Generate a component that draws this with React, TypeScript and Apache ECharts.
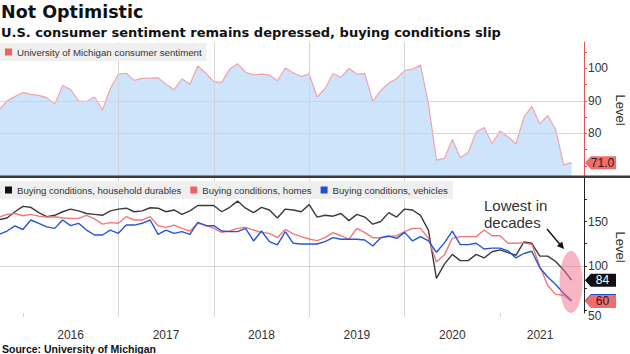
import React, { useEffect, useRef } from 'react';
import * as echarts from 'echarts';

// Monthly data, Sep 2015 .. Sep 2021 (plotted at month end)
const START_YEAR = 2015;
const START_MONTH = 9;

const sentiment = [
  87.2, 90.0, 91.3, 92.6,
  92.0, 91.7, 91.0, 89.0, 94.7, 93.5, 90.0, 89.8, 91.2, 87.2, 93.8, 98.2,
  98.5, 96.3, 96.9, 97.0, 97.1, 95.1, 93.4, 96.8, 95.1, 100.7, 98.5, 95.9,
  95.7, 99.7, 101.4, 98.8, 98.0, 98.2, 97.9, 96.2, 100.1, 98.6, 97.5, 98.3,
  91.2, 93.8, 98.4, 97.2, 100.0, 98.2, 98.4, 89.8, 93.2, 95.5, 96.8, 99.3,
  99.8, 101.0, 89.1, 71.8, 72.3, 78.1, 72.5, 74.1, 80.4, 81.8, 76.9, 80.7,
  79.0, 76.8, 84.9, 88.3, 82.9, 85.5, 81.2, 70.3, 71.0,
];

const durables = [
  152, 154, 161, 167,
  166, 160, 155.5, 157, 161, 164, 162, 159, 158, 157, 162, 164,
  165, 161, 162, 165.5, 165, 161, 163, 158, 162, 168, 168, 168,
  161, 166, 173, 165, 160, 166, 163, 154, 164, 163, 161, 169,
  155, 157, 156, 159, 151, 158, 155, 147, 150, 160, 155, 164,
  163, 157, 140, 86, 102, 113, 106, 106, 113, 109, 116, 118,
  115, 112, 127, 125.5, 111, 111, 105, 95.5, 84,
];

const homes = [
  155, 158, 159, 156.5,
  158, 156, 155, 155.4, 154, 153.5, 153.5, 157, 153, 147, 148.7, 148,
  155.4, 151.7, 151.7, 155.5, 145.3, 143.4, 146, 142.3, 139.3, 148, 146, 142.3,
  137.8, 139.3, 142.3, 143.4, 140.4, 137.8, 136.7, 131.8, 141.2, 136, 133, 130.3,
  128.5, 131.8, 137.4, 134, 130, 142.3, 137.4, 131.8, 131.8, 133, 134, 138.6,
  142.3, 142.3, 131, 104.5, 112.4, 131, 133, 133, 133, 140.4, 134, 134,
  125.5, 125.5, 126, 124, 100, 78, 68, 67, 60,
];

const vehicles = [
  135.6, 139.3, 145, 141,
  151.7, 148, 144, 142.3, 151.7, 145.3, 148, 140.4, 134.8, 134.8, 140.4, 136.7,
  146, 146, 148, 151.7, 135.6, 140.4, 136.7, 138.6, 135.6, 149, 145.3, 145.3,
  139.3, 138.6, 138.6, 142.3, 128.1, 139.3, 127.3, 123.6, 138.6, 125.5, 124.7, 124.7,
  124.7, 127.3, 131.8, 130, 130, 130, 129.2, 122.5, 131.8, 133.7, 131, 137.8,
  128.1, 133, 128.1, 115.4, 126, 139.3, 124, 124, 125.5, 119, 120, 120,
  117, 109, 114, 116.5, 98, 87.5, 79, 69.3, 61,
];

const yearStarts = [2016, 2017, 2018, 2019, 2020, 2021];
const yearLabelPos = [2016.5, 2017.5, 2018.5, 2019.5, 2020.5, 2021.42];
const topTicks = [70, 75, 80, 85, 90, 95, 100, 105];
const topLabels = [80, 90, 100];
const topGrid = [70, 80, 90, 100];
const botTicks = [50, 75, 100, 125, 150, 175];
const botLabels = [50, 100, 150];
const botGrid = [50, 100, 150];

const X_MIN = 2015.76;
const X_MAX = 2021.88;
const TOP_MIN = 66.9;
const TOP_MAX = 108.1;
const BOT_MIN = 47;
const BOT_MAX = 199;

const NAME_TOP = 'University of Michigan consumer sentiment';
const NAME_DUR = 'Buying conditions, household durables';
const NAME_HOM = 'Buying conditions, homes';
const NAME_VEH = 'Buying conditions, vehicles';

const monthX = sentiment.map((_, i) => START_YEAR + (START_MONTH + i) / 12);
const pairs = (arr: number[]) => arr.map((v, i) => [monthX[i], v]);

const LEG_FONT = '"Liberation Sans", Arial, sans-serif';
const AX_FONT = '"Liberation Sans", Arial, sans-serif';
const TAG_PATH = 'path://M0,6L6,0L32,0L32,12L6,12Z';
const GRID_COLOR = 'rgba(210,210,210,0.9)';

function tag(last: number, text: string, fill: string, txt: string, z: number) {
  return {
    z,
    silent: true,
    symbol: TAG_PATH,
    symbolSize: [31, 13],
    symbolOffset: [16.5, 0],
    symbolKeepAspect: false,
    itemStyle: { color: fill, borderWidth: 0 },
    label: {
      show: text !== '',
      position: 'inside',
      formatter: text,
      color: txt,
      fontSize: 12,
      fontFamily: AX_FONT,
      offset: [2, 0],
    },
    data: [{ coord: [X_MAX, last], value: last }],
  };
}

// hidden axis whose only job is to draw gridlines at given values
function gridYAxis(gridIndex: number, min: number, max: number, values: number[]) {
  return {
    gridIndex,
    type: 'value',
    position: 'right',
    min,
    max,
    axisLine: { show: false },
    axisTick: { show: false, customValues: values },
    axisLabel: { show: false },
    splitLine: { show: true, showMinLine: false, showMaxLine: false, lineStyle: { color: GRID_COLOR, width: 1 } },
  };
}

function levelText(y: number) {
  return {
    type: 'text',
    x: 620,
    y,
    rotation: -Math.PI / 2,
    style: {
      text: 'Level',
      font: '13px "Liberation Sans", Arial, sans-serif',
      fill: '#333',
      align: 'center',
      verticalAlign: 'middle',
    },
    z: 50,
  };
}

export default function App() {
  const ref = useRef<HTMLDivElement>(null);
  useEffect(() => {
    if (!ref.current) return;
    const chart = echarts.init(ref.current, null, { renderer: 'svg' });
    const lastS = sentiment[sentiment.length - 1];
    const lastD = durables[durables.length - 1];
    const lastH = homes[homes.length - 1];
    const lastV = vehicles[vehicles.length - 1];
    chart.setOption({
      animation: false,
      backgroundColor: '#ffffff',
      title: [
        {
          text: 'Not Optimistic',
          left: 1,
          top: 3,
          padding: 0,
          textStyle: { fontFamily: '"DejaVu Sans", sans-serif', fontWeight: 'bold', fontSize: 17.5, color: '#111' },
        },
        {
          text: 'U.S. consumer sentiment remains depressed, buying conditions slip',
          left: 1,
          top: 26,
          padding: 0,
          textStyle: { fontFamily: '"DejaVu Sans", sans-serif', fontWeight: 'bold', fontSize: 13, color: '#111' },
        },
        {
          text: 'Source: University of Michigan',
          left: 2,
          top: 343,
          padding: 0,
          textStyle: { fontFamily: AX_FONT, fontWeight: 'bold', fontSize: 10.5, lineHeight: 11, color: '#111' },
        },
      ],
      legend: [
        {
          data: [{ name: NAME_TOP, itemStyle: { color: '#f25f5f' } }],
          left: 0,
          top: 43,
          padding: [4, 5, 4, 5],
          backgroundColor: '#efefef',
          icon: 'rect',
          itemWidth: 7,
          itemHeight: 7,
          itemGap: 8,
          selectedMode: false,
          textStyle: { fontFamily: LEG_FONT, fontSize: 9.7, color: '#333' },
        },
        {
          data: [
            { name: NAME_DUR, itemStyle: { color: '#111111' } },
            { name: NAME_HOM, itemStyle: { color: '#f25f5f' } },
            { name: NAME_VEH, itemStyle: { color: '#1f4fd8' } },
          ],
          left: 0,
          top: 181,
          padding: [4, 5, 4, 5],
          backgroundColor: '#efefef',
          icon: 'rect',
          itemWidth: 7,
          itemHeight: 7,
          itemGap: 9,
          selectedMode: false,
          textStyle: { fontFamily: LEG_FONT, fontSize: 9.6, color: '#333' },
        },
      ],
      grid: [
        { left: 0, right: 46, top: 42, height: 134, outerBoundsMode: 'none', containLabel: false },
        { left: 0, right: 46, top: 178, height: 135, outerBoundsMode: 'none', containLabel: false },
      ],
      xAxis: [
        {
          gridIndex: 0,
          type: 'value',
          min: X_MIN,
          max: X_MAX,
          axisLine: { show: false },
          axisTick: { show: false, customValues: yearStarts },
          axisLabel: { show: false },
          splitLine: { show: true, showMinLine: false, showMaxLine: false, lineStyle: { color: GRID_COLOR, width: 1 } },
        },
        {
          gridIndex: 1,
          type: 'value',
          min: X_MIN,
          max: X_MAX,
          axisLine: { show: false },
          axisTick: { show: true, customValues: yearStarts, length: 4, lineStyle: { color: '#d4d4d4' } },
          axisLabel: {
            customValues: yearLabelPos,
            formatter: (v: number) => String(Math.floor(v)),
            margin: 16,
            fontSize: 12,
            lineHeight: 12,
            color: '#333',
            fontFamily: AX_FONT,
          },
          splitLine: { show: true, showMinLine: false, showMaxLine: false, lineStyle: { color: GRID_COLOR, width: 1 } },
        },
      ],
      yAxis: [
        {
          gridIndex: 0,
          type: 'value',
          position: 'right',
          min: TOP_MIN,
          max: TOP_MAX,
          axisLine: { show: true, lineStyle: { color: '#e8505a', width: 1 } },
          axisTick: { show: true, customValues: topTicks, length: 3, lineStyle: { color: '#e8505a' } },
          axisLabel: { customValues: topLabels, margin: 4, fontSize: 12, color: '#333', fontFamily: AX_FONT },
          splitLine: { show: false },
        },
        {
          gridIndex: 1,
          type: 'value',
          position: 'right',
          min: BOT_MIN,
          max: BOT_MAX,
          axisLine: { show: true, lineStyle: { color: '#222', width: 1 } },
          axisTick: { show: true, customValues: botTicks, length: 3, lineStyle: { color: '#222' } },
          axisLabel: {
            customValues: botLabels,
            margin: 4,
            fontSize: 12,
            color: '#333',
            fontFamily: AX_FONT,
            formatter: (v: number) => (v === 50 ? '{low|50}' : String(v)),
            rich: { low: { fontSize: 12, color: '#333', fontFamily: AX_FONT, padding: [11, 0, 0, 0] } },
          },
          splitLine: { show: false },
        },
        gridYAxis(0, TOP_MIN, TOP_MAX, topGrid),
        gridYAxis(1, BOT_MIN, BOT_MAX, botGrid),
      ],
      series: [
        {
          name: NAME_TOP,
          type: 'line',
          xAxisIndex: 0,
          yAxisIndex: 0,
          z: -1,
          data: pairs(sentiment),
          symbol: 'none',
          lineStyle: { color: '#f2a3ad', width: 1.2 },
          itemStyle: { color: '#f25f5f' },
          areaStyle: { color: '#cde4fb', opacity: 1, origin: 'start' },
          markPoint: tag(lastS, lastS.toFixed(1), '#f36b6b', '#222', 6),
        },
        {
          name: NAME_DUR,
          type: 'line',
          xAxisIndex: 1,
          yAxisIndex: 1,
          data: pairs(durables),
          symbol: 'none',
          lineStyle: { color: '#3a3a3a', width: 1.4 },
          itemStyle: { color: '#111' },
          markPoint: tag(lastD, String(lastD), '#111', '#fff', 6),
        },
        {
          name: NAME_HOM,
          type: 'line',
          xAxisIndex: 1,
          yAxisIndex: 1,
          data: pairs(homes),
          symbol: 'none',
          lineStyle: { color: '#f27878', width: 1.4 },
          itemStyle: { color: '#f25f5f' },
          markPoint: tag(lastH, String(lastH), '#f36b6b', '#222', 7),
        },
        {
          name: NAME_VEH,
          type: 'line',
          xAxisIndex: 1,
          yAxisIndex: 1,
          data: pairs(vehicles),
          symbol: 'none',
          lineStyle: { color: '#2455d8', width: 1.4 },
          itemStyle: { color: '#1f4fd8' },
          markPoint: tag(lastV, '', '#1f4fd8', '#fff', 5),
        },
      ],
      graphic: [
        { type: 'rect', shape: { x: 0, y: 175.5, width: 630, height: 2.5 }, style: { fill: '#3a3a3a' }, z: 50 },
        levelText(110),
        levelText(247),
        {
          type: 'text',
          left: 484,
          top: 197,
          style: { text: 'Lowest in\ndecades', font: '15px "Liberation Sans", Arial, sans-serif', fill: '#333', lineHeight: 17 },
          z: 50,
        },
        { type: 'line', shape: { x1: 547, y1: 229, x2: 560, y2: 244.5 }, style: { stroke: '#111', lineWidth: 1.4 }, z: 50 },
        {
          type: 'polygon',
          shape: { points: [[564, 249], [556.8, 245.9], [562.2, 241.4]] },
          style: { fill: '#111' },
          z: 50,
        },
        {
          type: 'ellipse',
          shape: { cx: 571, cy: 282, rx: 11.5, ry: 31 },
          style: { fill: 'rgba(238,110,135,0.5)' },
          z: 50,
        },
      ],
    });
    return () => chart.dispose();
  }, []);
  return <div ref={ref} style={{ position: 'absolute', left: 0, top: 0, width: 630, height: 354 }} />;
}
